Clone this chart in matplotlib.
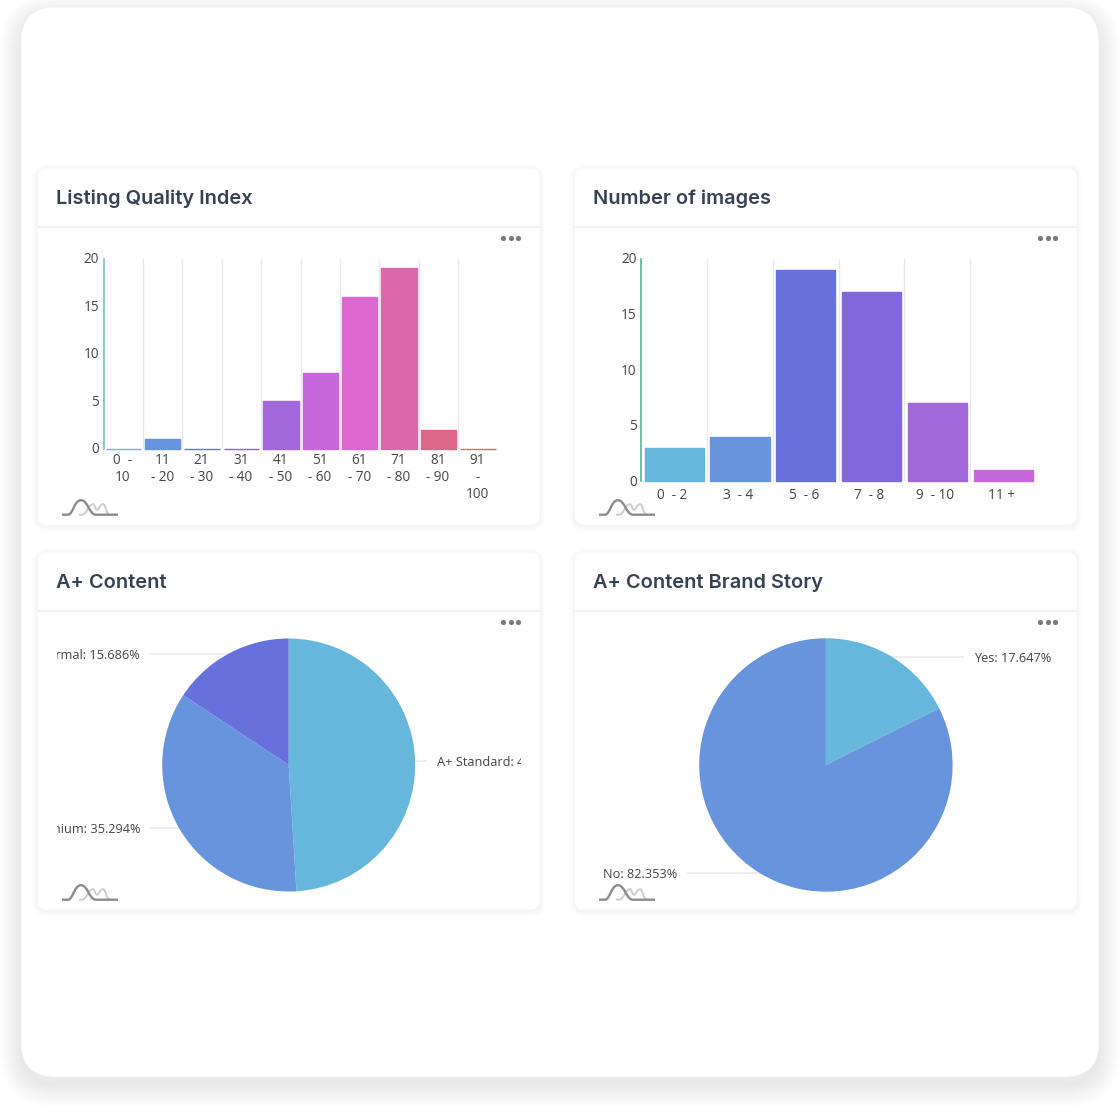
import numpy as np
import matplotlib
matplotlib.use("Agg")
import matplotlib.pyplot as plt
from matplotlib.patches import FancyBboxPatch, PathPatch, Rectangle
from matplotlib.path import Path
from matplotlib.transforms import ScaledTranslation

W, H = 1120, 1112

# ---------- data ----------
quality_labels = ["0  -\n10", "11\n- 20", "21\n- 30", "31\n- 40", "41\n- 50",
                  "51\n- 60", "61\n- 70", "71\n- 80", "81\n- 90", "91\n-\n100"]
quality_values = [0, 1, 0, 0, 5, 8, 16, 19, 2, 0]
quality_colors = ["#67b7dc", "#6794dc", "#6771dc", "#8067dc", "#a367dc",
                  "#c767dc", "#dc67ce", "#dc67ab", "#dc6788", "#dc6967"]
quality_ticks = [0, 5, 10, 15, 20]

images_labels = ["0  - 2", "3  - 4", "5  - 6", "7  - 8", "9  - 10", "11 +"]
images_values = [3, 4, 19, 17, 7, 1]
images_colors = ["#67b7dc", "#6794dc", "#6771dc", "#8067dc", "#a367dc", "#c767dc"]
images_ticks = [0, 5, 10, 15, 20]

content_labels = ["A+ Standard", "A+ Premium", "A+ Normal"]
content_values = [49.020, 35.294, 15.686]
content_text = ["49.02%", "35.294%", "15.686%"]
content_colors = ["#67b7dc", "#6794dc", "#6771dc"]

story_labels = ["Yes", "No"]
story_values = [17.647, 82.353]
story_text = ["17.647%", "82.353%"]
story_colors = ["#67b7dc", "#6794dc"]

titles = ["Listing Quality Index", "Number of images", "A+ Content", "A+ Content Brand Story"]

# ---------- style ----------
TEXT = "#454545"
TITLE = "#374151"
GRID = "#e8e8e8"
LEADER = "#e8e8e8"
plt.rcParams["font.family"] = ["Open Sans", "DejaVu Sans"]

fig = plt.figure(figsize=(W / 100, H / 100), dpi=100, facecolor="white")
bg = fig.add_axes([0, 0, 1, 1], zorder=0)
bg.set_xlim(0, W)
bg.set_ylim(H, 0)
bg.axis("off")


def rrect(ax, x0, y0, x1, y1, r, **kw):
    p = FancyBboxPatch((x0 + r, y0 + r), x1 - x0 - 2 * r, y1 - y0 - 2 * r,
                       boxstyle=f"round,pad={r},rounding_size={r}", **kw)
    ax.add_patch(p)
    return p


def shadow(ax, x0, y0, x1, y1, r, spread, dy, alpha):
    for s in np.linspace(spread, 0.5, int(spread)):
        rrect(ax, x0 - s, y0 - s + dy, x1 + s, y1 + s + dy, r + s,
              facecolor="black", edgecolor="none", alpha=alpha)


# outer panel
shadow(bg, 21, 8, 1099, 1077, 34, 22, 8, 0.0024)
rrect(bg, 21, 7, 1099, 1077, 34, facecolor="white", edgecolor="#f0f0f0", linewidth=0.6)

cards = [(37.5, 168, 540, 525, 226.5), (574.5, 168, 1077, 525, 226.5),
         (37.5, 552, 540, 910, 610.7), (574.5, 552, 1077, 910, 610.7)]


def logo(ax, x0, base):
    pts_front = [(0, 0), (6, 0), (11, 0), (12, -14.5), (19, -14.5),
                 (26, -14.5), (27, 0), (34, 0), (56, 0)]
    codes_front = [Path.MOVETO, Path.LINETO] + [Path.CURVE4] * 6 + [Path.LINETO]
    pts_back = [(17, 0), (20, 0), (25, 0), (26, -10.5), (31, -10.5),
                (33, -10.5), (33, -5), (35, -5), (37, -5), (38, -10.5), (41, -10.5),
                (44, -10.5), (44, 0), (48, 0)]
    codes_back = [Path.MOVETO, Path.LINETO] + [Path.CURVE4] * 12
    front = Path([(x0 + a, base + b) for a, b in pts_front], codes_front)
    back = Path([(x0 + a, base + b) for a, b in pts_back], codes_back)
    ax.add_patch(PathPatch(back, facecolor="none", edgecolor="#cdcdcd", linewidth=1.4))
    ax.add_patch(PathPatch(front, facecolor="none", edgecolor="#8c8c8c", linewidth=1.7))


for (x0, y0, x1, y1, hl), title in zip(cards, titles):
    shadow(bg, x0, y0, x1, y1, 9, 5, 1.5, 0.006)
    rrect(bg, x0, y0, x1, y1, 9, facecolor="white", edgecolor="#f5f5f5", linewidth=0.5)
    bg.plot([x0, x1], [hl, hl], color="#eceef2", lw=1.1, solid_capstyle="butt")
    bg.text(x0 + 18.3, (y0 + hl) / 2 + 1.4, title, fontsize=14.4, fontweight="semibold",
            family=["Inter", "DejaVu Sans"], color=TITLE, va="center", ha="left")
    bg.scatter([x1 - 37, x1 - 29.5, x1 - 22], [hl + 11.7] * 3, s=14, color="#7a7a7a", linewidths=0)
    logo(bg, x0 + 24.5, y1 - 10.3)


def px_axes(left, top, right, bottom):
    ax = fig.add_axes([left / W, 1 - bottom / H, (right - left) / W, (bottom - top) / H], zorder=2)
    ax.patch.set_alpha(0)
    return ax


def bars(box, labels, values, colors, ticks, axis_color, pad, shift):
    ax = px_axes(*box)
    n = len(values)
    x = np.arange(n)
    for v in range(1, n):
        ax.axvline(v - 0.5, color=GRID, lw=1, zorder=1)
    rects = ax.bar(x, values, width=0.9, color=colors, edgecolor=colors, linewidth=1.0, zorder=3)
    for r in rects:
        r.set_joinstyle("round")
        r.set_clip_on(False)
    ax.set_xlim(-0.5, n - 0.5)
    ax.set_ylim(0, 20)
    ax.set_yticks(ticks)
    ax.set_xticks(x)
    ax.set_xticklabels(labels, linespacing=1.2)
    ax.tick_params(axis="both", length=0, labelsize=9.8, labelcolor=TEXT)
    ax.tick_params(axis="x", pad=pad)
    ax.tick_params(axis="y", pad=3.3)
    off = ScaledTranslation(shift / 100, 0, fig.dpi_scale_trans)
    for lbl in ax.get_xticklabels():
        lbl.set_transform(lbl.get_transform() + off)
    off_y = ScaledTranslation(0, 0.7 / 100, fig.dpi_scale_trans)
    for lbl in ax.get_yticklabels():
        lbl.set_transform(lbl.get_transform() + off_y)
    for s in ["top", "right", "bottom"]:
        ax.spines[s].set_visible(False)
    ax.spines["left"].set_color(axis_color)
    ax.spines["left"].set_linewidth(1.3)
    return ax


bars((103.6, 258.7, 497.7, 448.7), quality_labels, quality_values, quality_colors, quality_ticks, "#85c8b0", 3, -0.5)
bars((641.3, 258.7, 1036, 481), images_labels, images_values, images_colors, images_ticks, "#5bbd98", 5, -2)


def pie(cx, cy, r, values, colors, names, texts, anchors, clip):
    ax = px_axes(cx - r, cy - r, cx + r, cy + r)
    total = sum(values)
    ax.pie(values, colors=colors, startangle=90, counterclock=False, radius=1,
           wedgeprops={"linewidth": 0, "zorder": 3}, frame=True)
    ax.set_xlim(-1, 1)
    ax.set_ylim(-1, 1)
    ax.axis("off")
    cum = 0
    for v, name, txt, (line_px, text_px, ha) in zip(values, names, texts, anchors):
        mid = np.radians(360 * (cum + v / 2) / total)
        cum += v
        yy = np.cos(mid)
        edge = 0.97 * np.sin(mid) if abs(np.sin(mid)) > 0.2 else np.sin(mid)
        lx = (line_px - cx) / r
        tx = (text_px - cx) / r
        ax.plot([edge, lx], [yy, yy], color=LEADER, lw=1.1, zorder=1, clip_on=False)
        t = ax.text(tx, yy - 0.012, f"{name}: {txt}", ha=ha, va="center", fontsize=9.2,
                    color=TEXT, clip_on=True)
        if clip is not None:
            rect = Rectangle((clip[0], 0), clip[1] - clip[0], H, transform=bg.transData)
            t.set_clip_path(rect)
        else:
            t.set_clip_on(False)


pie(288.7, 765, 126.5, content_values, content_colors, content_labels, content_text,
    [(426, 437, "left"), (150, 140, "right"), (150, 140, "right")], (57, 520.5))
pie(825.9, 765, 126.7, story_values, story_colors, story_labels, story_text,
    [(963, 974, "left"), (688, 677, "right")], None)

fig.savefig("out.png", dpi=100, facecolor="white")
